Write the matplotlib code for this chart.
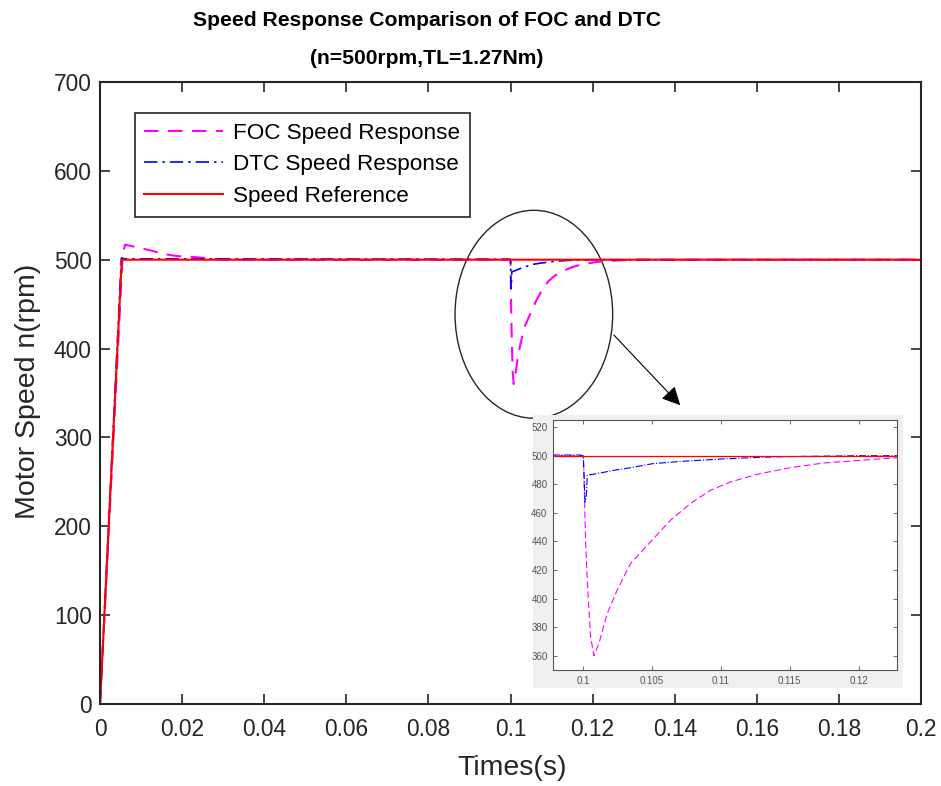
import matplotlib
matplotlib.use("Agg")
import matplotlib.pyplot as plt
import numpy as np
from matplotlib.patches import Ellipse, Rectangle

plt.rcParams['font.family'] = ['Liberation Sans', 'DejaVu Sans']

# reference speed (rpm) vs time (s)
t_ref = [0, 0.0053, 0.2]
n_ref = [0, 500, 500]

# FOC speed response
t_foc = [0, 0.0055, 0.0061, 0.0089, 0.0118, 0.016, 0.019, 0.023, 0.03,
         0.1, 0.10005, 0.10017, 0.10034, 0.10053, 0.10077, 0.10114, 0.10174,
         0.10246, 0.10343, 0.10488, 0.10633, 0.10778, 0.10923, 0.11068,
         0.11261, 0.11502, 0.11744, 0.11998, 0.12251, 0.13, 0.2]
n_foc = [0, 505, 517, 514, 511, 506, 504, 503, 500,
         500, 485, 438.5, 403.6, 373.3, 360, 368.6, 389.6,
         405.9, 424.5, 439.7, 454.8, 466.5, 475.8, 481.6,
         487.0, 491.6, 494.9, 496.7, 498.4, 500, 500]

# DTC speed response
t_dtc = [0, 0.0052, 0.006, 0.0998, 0.1, 0.10006, 0.10012, 0.10022, 0.10029,
         0.101, 0.10222, 0.10343, 0.105, 0.10705, 0.11, 0.1131, 0.1155, 0.12, 0.2]
n_dtc = [0, 502, 501, 500.5, 500, 485, 467.6, 472, 486.3,
         487.5, 489.8, 491.6, 494.4, 496, 497.7, 499, 499.5, 500, 500]

xticks = np.arange(0, 0.2001, 0.02)
yticks = np.arange(0, 701, 100)
inset_xticks = [0.1, 0.105, 0.11, 0.115, 0.12]
inset_yticks = np.arange(360, 521, 20)

fig = plt.figure(figsize=(9.41, 7.86), dpi=100)
ax = fig.add_axes([0.1063, 0.1043, 0.8725, 0.7914])

ax.plot(t_foc, n_foc, color='#ff00ff', ls=(0, (7, 4.5)), lw=1.5, label='FOC Speed Response')
ax.plot(t_dtc, n_dtc, color='#0000ff', ls=(0, (8, 3, 1.5, 3)), lw=1.2, label='DTC Speed Response')
ax.plot(t_ref, n_ref, color='#ff0000', ls='-', lw=1.5, label='Speed Reference')

ax.set_xlim(0, 0.2)
ax.set_ylim(0, 700)
ax.set_xticks(xticks)
ax.set_xticklabels(['0'] + ['%g' % v for v in xticks[1:]])
ax.set_yticks(yticks)
ax.tick_params(direction='in', length=7, width=1.2, labelsize=16.4,
               top=True, right=True, colors='#262626', labelcolor='#262626')
ax.tick_params(axis='x', pad=10)
ax.tick_params(axis='y', pad=6)
for s in ax.spines.values():
    s.set_linewidth(1.5)
    s.set_color('#262626')

ax.set_xlabel('Times(s)', fontsize=20.5, color='#262626')
ax.set_ylabel('Motor Speed n(rpm)', fontsize=20.5, color='#262626')
ax.xaxis.set_label_coords(0.502, -0.082)
ax.yaxis.set_label_coords(-0.072, 0.503)

fig.text(427 / 941, 1 - 21 / 786, 'Speed Response Comparison of FOC and DTC',
         ha='center', va='center', fontsize=15.2, fontweight='bold')
fig.text(427 / 941, 1 - 59 / 786, '(n=500rpm,TL=1.27Nm)',
         ha='center', va='center', fontsize=15.2, fontweight='bold')

leg = ax.legend(loc='upper left', bbox_to_anchor=(0.0426, 0.950), borderaxespad=0,
                fontsize=16.2, handlelength=3.5, handletextpad=0.45, labelspacing=0.48,
                fancybox=False, edgecolor='#262626', framealpha=1, borderpad=0.42)
leg.get_frame().set_linewidth(1.2)

# zoom circle and arrow
ax.add_patch(Ellipse((0.10568, 438.6), 0.0384, 234, fill=False, ec='#262626', lw=1.0))
ax.annotate('', xy=(0.1418, 334), xytext=(0.1247, 417.5),
            arrowprops=dict(arrowstyle='-|>', color='black', lw=0.8, mutation_scale=28))

# inset (pasted zoom view)
fig.patches.append(Rectangle((0.5664, 0.1247), 0.3932, 0.3473, transform=fig.transFigure,
                             facecolor='#f0f0f0', edgecolor='none', zorder=2))
axi = fig.add_axes([0.5877, 0.1476, 0.3656, 0.318])
axi.set_zorder(3)
axi.plot(t_foc, n_foc, color='#ff00ff', ls=(0, (6, 3)), lw=0.8)
axi.plot(t_dtc, n_dtc, color='#0000ff', ls='-.', lw=0.8)
axi.plot(t_ref, n_ref, color='#ff0000', ls='-', lw=0.9)
axi.set_xlim(0.0978, 0.1228)
axi.set_ylim(350, 525)
axi.set_xticks(inset_xticks)
axi.set_xticklabels(['%g' % v for v in inset_xticks])
axi.set_yticks(inset_yticks)
axi.tick_params(direction='in', length=3, width=0.6, labelsize=7, top=True, right=True,
                colors='#555555', labelcolor='#555555', pad=4)
for s in axi.spines.values():
    s.set_linewidth(0.8)
    s.set_color('#555555')

fig.savefig('out.png', dpi=100)
